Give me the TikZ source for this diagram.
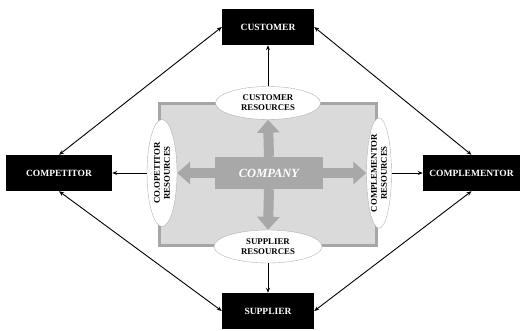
\documentclass[tikz,border=0pt]{standalone}
\usepackage{fontspec}
\setmainfont{Liberation Serif}
\usepackage{tikz}
\usetikzlibrary{shapes.geometric,arrows.meta}

\definecolor{framegray}{RGB}{166,166,166}
\definecolor{fillgray}{RGB}{218,218,218}
\definecolor{boxgray}{RGB}{168,168,168}

\begin{document}
\begin{tikzpicture}[x=1pt,y=-1pt,
  party/.style={fill=black,text=white,inner sep=0pt,minimum height=36pt,
    font=\fontsize{9.5}{11}\selectfont\bfseries},
  res/.style={ellipse,draw=gray!60,fill=white,inner sep=0pt,align=center,
    font=\fontsize{8.8}{10}\selectfont\bfseries},
  link/.style={line width=0.9pt,-{Stealth[length=5pt,width=4pt]}},
  twoway/.style={line width=0.9pt,{Stealth[length=5pt,width=4pt]}-{Stealth[length=5pt,width=4pt]}},
  fat/.style={draw=boxgray,line width=10pt,-{Triangle[length=13pt,width=22pt]}}]
\useasboundingbox (0,0) rectangle (524,330);

% company area
\node (frame) [draw=framegray,fill=fillgray,line width=3pt,minimum width=217pt,minimum height=142pt] at (268,174.5) {};
\node (company) [fill=boxgray,text=white,minimum width=108pt,minimum height=32pt,font=\fontsize{12.5}{14}\selectfont\bfseries\itshape] at (269,173) {COMPANY};

% resources
\node (custres) [res,minimum width=105pt,minimum height=33pt] at (268,103) {CUSTOMER\\RESOURCES};
\node (supres) [res,minimum width=108pt,minimum height=33pt] at (268,246.5) {SUPPLIER\\RESOURCES};
\node (coopres) [res,rotate=90,minimum width=107pt,minimum height=30pt] at (162,173) {CO.OPETITOR\\RESOURCES};
\node (compres) [res,rotate=90,minimum width=107pt,minimum height=25pt] at (379,173) {COMPLEMENTOR\\RESOURCES};

% gray arrows out of the company
\draw[fat] (company.north) -- (custres.south);
\draw[fat] (company.south) -- (supres.north);
\draw[fat] (company.west) -- (coopres.south);
\draw[fat] (company.east) -- (compres.north);

% outside parties
\node (customer) [party,minimum width=92pt] at (268,27) {CUSTOMER};
\node (supplier) [party,minimum width=92pt] at (268,311) {SUPPLIER};
\node (competitor) [party,minimum width=106pt] at (59,173) {COMPETITOR};
\node (complementor) [party,minimum width=97pt] at (471.5,173) {COMPLEMENTOR};

% links
\draw[link] (custres.north) -- (customer.south);
\draw[link] (supres.south) -- (supplier.north);
\draw[link] (coopres.north) -- (competitor.east);
\draw[link] (compres.south) -- (complementor.west);
\draw[twoway] (customer.west) -- (competitor.north);
\draw[twoway] (customer.east) -- (complementor.north);
\draw[twoway] (supplier.west) -- (competitor.south);
\draw[twoway] (supplier.east) -- (complementor.south);
\end{tikzpicture}
\end{document}
